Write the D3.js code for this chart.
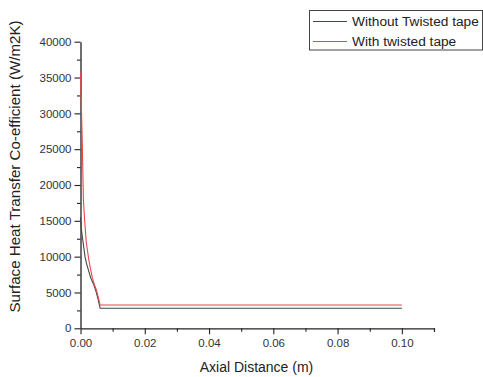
<!DOCTYPE html>
<html>
<head>
<meta charset="utf-8">
<script src="https://cdn.jsdelivr.net/npm/d3@7"></script>
<style>
  body { margin: 0; background: #fff; }
  text { font-family: "Liberation Sans", Arial, sans-serif; }
</style>
</head>
<body>
<div id="plotdiv"></div>
<script>
// data
const seriesNames = ["Without Twisted tape", "With twisted tape"];
const seriesColors = ["#3d4b4d", "#e8474a"];

const withoutX = [0, 0.00025, 0.0005, 0.0014, 0.0019, 0.0032, 0.0042, 0.0048, 0.0055, 0.0061, 0.10];
const withoutY = [15500, 14000, 13000, 10000, 9000, 7000, 6000, 5200, 4000, 2800, 2800];

const withX = [0, 0.0002, 0.0005, 0.0009, 0.0013, 0.0018, 0.0026, 0.0037, 0.0044, 0.0050, 0.0056, 0.0061, 0.10];
const withY = [35700, 32000, 27000, 18000, 15000, 12000, 9500, 7000, 6000, 5300, 4200, 3250, 3250];

const xTicks = [0, 0.02, 0.04, 0.06, 0.08, 0.10];
const yTicks = [0, 5000, 10000, 15000, 20000, 25000, 30000, 35000, 40000];

const xTitle = "Axial Distance (m)";
const yTitle = "Surface Heat Transfer Co-efficient (W/m2K)";

// layout
const W = 483, H = 377;
const plotLeft = 80.5, plotRight = 434, plotTop = 41.7, plotBottom = 328.3;

const svg = d3.select("#plotdiv").append("svg")
  .attr("width", W).attr("height", H);

const x = d3.scaleLinear().domain([0, 0.11]).range([plotLeft, plotRight]);
const y = d3.scaleLinear().domain([0, 40000]).range([plotBottom, plotTop]);

// x axis
const xAxis = svg.append("g").attr("transform", "translate(0," + plotBottom + ")");
xAxis.call(d3.axisBottom(x).tickValues(xTicks).tickFormat(d3.format(".2f")).tickSize(6).tickPadding(3).tickSizeOuter(0));
xAxis.append("g")
  .call(d3.axisBottom(x).tickValues(d3.range(1, 12, 2).map(d => d / 100).concat([0.11])).tickFormat("").tickSize(3.5).tickSizeOuter(0))
  .select(".domain").remove();

// y axis
const yAxis = svg.append("g").attr("transform", "translate(" + plotLeft + ",0)");
yAxis.call(d3.axisLeft(y).tickValues(yTicks).tickFormat(d3.format("d")).tickSize(6).tickPadding(3).tickSizeOuter(0));
yAxis.append("g")
  .call(d3.axisLeft(y).tickValues(d3.range(2500, 40000, 5000)).tickFormat("").tickSize(3.5).tickSizeOuter(0))
  .select(".domain").remove();

svg.selectAll(".domain").attr("stroke", "#222").attr("stroke-width", 1.3);
svg.selectAll(".tick line").attr("stroke", "#222").attr("stroke-width", 1.1);
svg.selectAll(".tick text").attr("font-size", 11.5).attr("fill", "#333")
  .style("font-family", "'Liberation Sans', Arial, sans-serif");
xAxis.selectAll(".tick text").attr("dy", "0.85em");

// titles
svg.append("text")
  .attr("x", (200 + 313) / 2).attr("y", 372)
  .attr("text-anchor", "middle").attr("font-size", 14).attr("fill", "#222")
  .text(xTitle);

svg.append("text")
  .attr("transform", "translate(20," + ((20 + 313) / 2) + ") rotate(-90)")
  .attr("text-anchor", "middle").attr("font-size", 14).attr("fill", "#222")
  .attr("textLength", 292).attr("lengthAdjust", "spacingAndGlyphs")
  .text(yTitle);

// lines
const line = d3.line().x(d => x(d[0])).y(d => y(d[1]));
const series = [
  d3.zip(withoutX, withoutY),
  d3.zip(withX, withY)
];

svg.selectAll(".series")
  .data(series)
  .enter()
  .append("path")
  .attr("class", "series")
  .attr("d", line)
  .attr("fill", "none")
  .attr("stroke", (d, i) => seriesColors[i])
  .attr("stroke-width", 1.1);

// legend
const legend = svg.append("g");
legend.append("rect")
  .attr("x", 309.5).attr("y", 10.5).attr("width", 173).attr("height", 39.5)
  .attr("fill", "#fff").attr("stroke", "#444").attr("stroke-width", 1);

seriesNames.forEach((name, i) => {
  const ly = 21.5 + i * 20;
  legend.append("line")
    .attr("x1", 313).attr("x2", 347).attr("y1", ly).attr("y2", ly)
    .attr("stroke", seriesColors[i]).attr("stroke-width", 1.1);
  legend.append("text")
    .attr("x", 352).attr("y", ly).attr("dy", "0.35em")
    .attr("font-size", 13.7).attr("fill", "#222")
    .text(name);
});
</script>
</body>
</html>
